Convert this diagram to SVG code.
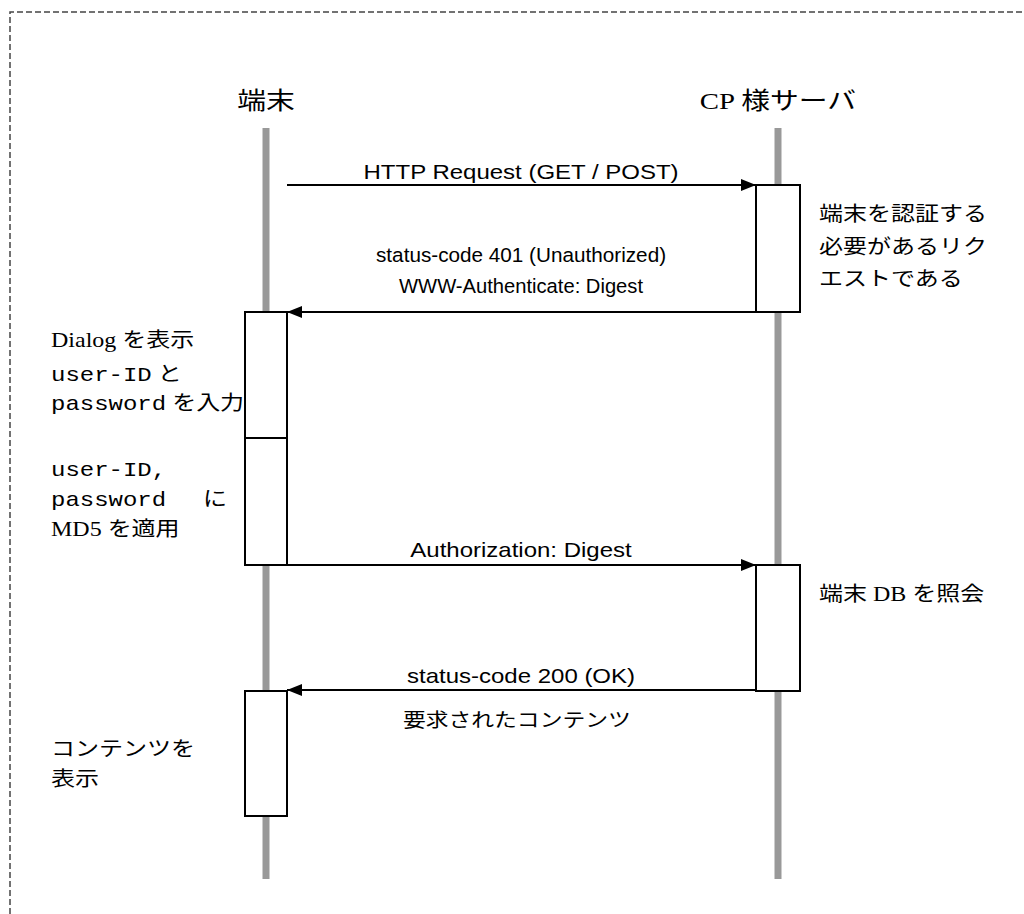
<svg xmlns="http://www.w3.org/2000/svg" width="1024" height="914" viewBox="0 0 1024 914">
<style>
.jp{font-family:"Liberation Serif","Noto Sans CJK JP",serif;font-size:20px;fill:#000;}
.ttl{font-family:"Liberation Serif","Noto Sans CJK JP",serif;font-size:24px;fill:#000;text-anchor:middle;}
.mono{font-family:"Liberation Mono","Noto Sans CJK JP",monospace;}
.lbl{font-family:"Liberation Sans",Arial,sans-serif;font-size:20px;fill:#000;text-anchor:middle;}
.sm{font-size:19.5px;}
.life{stroke:#999;stroke-width:7;fill:none;}
.act{fill:#fff;stroke:#000;stroke-width:2;}
.msg{stroke:#000;stroke-width:2.2;fill:none;marker-end:url(#ah);}
</style>
<defs>
<marker id="ah" viewBox="0 0 15 12" refX="15" refY="6" markerWidth="15" markerHeight="12" markerUnits="userSpaceOnUse" orient="auto">
<path d="M0,0 L15,6 L0,12 Z" fill="#000"/>
</marker>
</defs>
<rect width="1024" height="914" fill="#fff"/>
<path d="M10,914 L10,12 L1024,12" fill="none" stroke="#444" stroke-width="1.5" stroke-dasharray="6,3"/>

<g id="terminal">
<line class="life" x1="266" y1="128" x2="266" y2="879"/>
<g transform="scale(1.2,1)"><text class="ttl" x="221.7" y="109">端末</text></g>
</g>
<g id="server">
<line class="life" x1="778" y1="128" x2="778" y2="879"/>
<g transform="scale(1.2,1)"><text class="ttl" x="648.3" y="109">CP 様サーバ</text></g>
</g>

<g id="act-server-1">
<rect class="act" x="756" y="185" width="44" height="127"/>
<g transform="scale(1.2,1)">
<text class="jp" x="682.5" y="221">端末を認証する</text>
<text class="jp" x="682.5" y="254">必要があるリク</text>
<text class="jp" x="682.5" y="286">エストである</text>
</g>
</g>

<g id="act-terminal-1">
<rect class="act" x="245" y="312" width="42" height="126"/>
<g transform="scale(1.2,1)">
<text class="jp" x="42.5" y="347">Dialog を表示</text>
<text class="jp" x="42.5" y="381"><tspan class="mono">user-ID</tspan> と</text>
<text class="jp" x="42.5" y="410"><tspan class="mono">password</tspan> を入力</text>
</g>
</g>

<g id="act-terminal-2">
<rect class="act" x="245" y="438" width="42" height="127"/>
<g transform="scale(1.2,1)">
<text class="jp mono" x="42.5" y="476">user-ID,</text>
<text class="jp mono" x="42.5" y="506">password</text>
<text class="jp" x="169.2" y="506">に</text>
<text class="jp" x="42.5" y="536">MD5 を適用</text>
</g>
</g>

<g id="act-server-2">
<rect class="act" x="756" y="565" width="44" height="126"/>
<g transform="scale(1.2,1)">
<text class="jp" x="682.5" y="601">端末 DB を照会</text>
</g>
</g>

<g id="act-terminal-3">
<rect class="act" x="245" y="691" width="42" height="125"/>
<g transform="scale(1.2,1)">
<text class="jp" x="42.5" y="756">コンテンツを</text>
<text class="jp" x="42.5" y="786">表示</text>
</g>
</g>

<g id="connectors">
<line class="msg" x1="287" y1="185" x2="756" y2="185"/>
<line class="msg" x1="756" y1="312" x2="287" y2="312"/>
<line class="msg" x1="287" y1="565" x2="756" y2="565"/>
<line class="msg" x1="756" y1="690" x2="287" y2="690"/>
<g transform="scale(1.2,1)">
<text class="lbl" x="434.2" y="179">HTTP Request (GET / POST)</text>
<text class="lbl sm" x="434.2" y="262" textLength="241.7" lengthAdjust="spacingAndGlyphs">status-code 401 (Unauthorized)</text>
<text class="lbl sm" x="434.2" y="293" textLength="203.3" lengthAdjust="spacingAndGlyphs">WWW-Authenticate: Digest</text>
<text class="lbl" x="434.2" y="557">Authorization: Digest</text>
<text class="lbl" x="434.2" y="683">status-code 200 (OK)</text>
<text class="jp" x="335.8" y="727" style="font-size:19px">要求されたコンテンツ</text>
</g>
</g>
</svg>
